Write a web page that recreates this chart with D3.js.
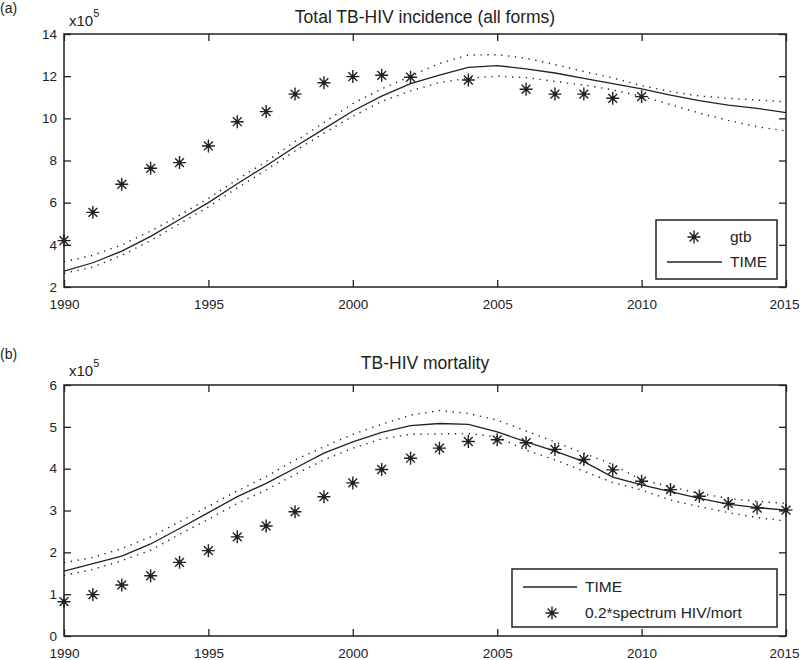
<!DOCTYPE html>
<html><head><meta charset="utf-8">
<script src="https://cdn.jsdelivr.net/npm/d3@7"></script>
<style>
body{margin:0;background:#fff}
svg text{font-family:"Liberation Sans",Arial,Helvetica,sans-serif;fill:#222}
</style>
</head><body>
<svg id="c" width="800" height="660"></svg>
<script>
// ---------- DATA (values in units of 10^5) ----------
const years = d3.range(1990, 2016);
const xTicks = [1990, 1995, 2000, 2005, 2010, 2015];

// Panel (a): Total TB-HIV incidence
const incTicks = [2, 4, 6, 8, 10, 12, 14];
const incGtbYears  = [1990,1991,1992,1993,1994,1995,1996,1997,1998,1999,2000,2001,2002,2004,2006,2007,2008,2009,2010];
const incGtbValues = [4.2,5.54,6.87,7.63,7.9,8.69,9.84,10.32,11.15,11.69,11.98,12.04,11.95,11.82,11.38,11.15,11.15,10.95,11.03];
const incTime  = [2.75,3.15,3.7,4.4,5.2,6.0,6.9,7.75,8.65,9.5,10.35,11.05,11.65,12.05,12.42,12.5,12.35,12.15,11.9,11.65,11.4,11.1,10.84,10.63,10.47,10.27];
const incUpper = [3.2,3.5,4.0,4.65,5.4,6.2,7.1,7.95,8.9,9.8,10.7,11.4,12.0,12.6,13.0,13.02,12.85,12.55,12.22,11.92,11.55,11.27,11.06,10.95,10.87,10.78];
const incLower = [2.65,2.95,3.5,4.2,5.0,5.8,6.7,7.55,8.45,9.3,10.1,10.8,11.3,11.7,11.9,12.0,11.93,11.75,11.58,11.35,11.05,10.65,10.25,9.9,9.6,9.4];

// Panel (b): TB-HIV mortality
const mortTicks = [0, 1, 2, 3, 4, 5, 6];
const mortSpecYears  = d3.range(1990, 2016);
const mortSpecValues = [0.82,0.99,1.22,1.44,1.76,2.04,2.37,2.63,2.97,3.33,3.66,3.98,4.25,4.49,4.65,4.69,4.62,4.46,4.22,3.97,3.7,3.5,3.34,3.17,3.06,3.01];
const mortTime  = [1.55,1.73,1.91,2.2,2.57,2.95,3.33,3.65,4.01,4.37,4.64,4.87,5.03,5.08,5.06,4.88,4.64,4.42,4.17,3.8,3.61,3.45,3.29,3.15,3.07,3.01];
const mortUpper = [1.75,1.88,2.09,2.37,2.73,3.1,3.47,3.81,4.21,4.52,4.82,5.06,5.28,5.39,5.32,5.16,4.9,4.64,4.37,4.1,3.73,3.57,3.41,3.29,3.22,3.17];
const mortLower = [1.45,1.59,1.8,2.05,2.43,2.79,3.17,3.49,3.86,4.21,4.49,4.71,4.82,4.83,4.84,4.76,4.44,4.21,3.94,3.67,3.49,3.25,3.09,2.95,2.83,2.75];

// ---------- DRAWING ----------
const svg = d3.select('#c');
const INK = '#222';

function starPath(r){
  const d = r*0.68;
  return `M${-r},0H${r}M0,${-r}V${r}M${-d},${-d}L${d},${d}M${-d},${d}L${d},${-d}`;
}
function drawStar(g, x, y){
  const s = g.append('g').attr('transform', `translate(${x},${y})`);
  s.append('path').attr('d', starPath(6.5)).attr('stroke', INK).attr('stroke-width', 1.4).attr('fill', 'none');
  s.append('circle').attr('r', 2.1).attr('fill', INK);
}

function panel(opt){
  const {left, right, top, bottom, yDomain, yTicks, label, title, titleY, expY,
         obsYears, obsValues, time, upper, lower, legend} = opt;
  const x = d3.scaleLinear().domain([1990, 2015]).range([left, right]);
  const y = d3.scaleLinear().domain(yDomain).range([bottom, top]);
  const g = svg.append('g');

  // axes with inward ticks on all four sides
  const ax = [
    [d3.axisBottom(x).tickValues(xTicks).tickFormat(d3.format('d')), `translate(0,${bottom})`, 12],
    [d3.axisTop(x).tickValues(xTicks).tickFormat(''), `translate(0,${top})`, 0],
    [d3.axisLeft(y).tickValues(yTicks).tickFormat(d3.format('d')), `translate(${left},0)`, 7],
    [d3.axisRight(y).tickValues(yTicks).tickFormat(''), `translate(${right},0)`, 0]
  ];
  ax.forEach(([a, tr, pad]) => {
    const ag = g.append('g').attr('transform', tr)
      .call(a.tickSizeInner(-7).tickSizeOuter(0).tickPadding(pad));
    ag.select('.domain').remove();
    ag.selectAll('line').attr('stroke', INK).attr('stroke-width', 1.3);
    ag.selectAll('text').attr('font-size', 13.5).attr('fill', INK)
      .style('font-family', '"Liberation Sans",Arial,sans-serif');
  });
  // keep the last x label ("2015") inside the page edge
  g.selectAll('.tick').filter(d => d === 2015).select('text').attr('text-anchor', 'end').attr('x', 800 - right - 1);

  // frame
  g.append('rect').attr('x', left).attr('y', top).attr('width', right-left).attr('height', bottom-top)
    .attr('fill', 'none').attr('stroke', INK).attr('stroke-width', 1.5);

  // bands + model line
  const line = d3.line().x((d,i) => x(years[i])).y(d => y(d));
  [upper, lower].forEach(arr => {
    g.append('path').attr('d', line(arr)).attr('fill', 'none').attr('stroke', INK)
      .attr('stroke-width', 1.4).attr('stroke-dasharray', '1.3 5.6');
  });
  g.append('path').attr('d', line(time)).attr('fill', 'none').attr('stroke', INK).attr('stroke-width', 1.3);

  // observed stars
  obsYears.forEach((yr, i) => drawStar(g, x(yr), y(obsValues[i])));

  // titles
  svg.append('text').attr('x', (left+right)/2).attr('y', titleY).attr('text-anchor', 'middle')
    .attr('font-size', 17.5).text(title);
  svg.append('text').attr('x', 0).attr('y', titleY - 10).attr('font-size', 14).text(label);
  const ex = svg.append('text').attr('x', 69).attr('y', expY).attr('font-size', 15);
  ex.append('tspan').text('x10');
  ex.append('tspan').attr('dy', -9).attr('font-size', 11).text('5');

  // legend
  const L = legend;
  const lg = svg.append('g');
  lg.append('rect').attr('x', L.x).attr('y', L.y).attr('width', L.w).attr('height', L.h)
    .attr('fill', '#fff').attr('stroke', INK).attr('stroke-width', 1.5);
  L.items.forEach((it, i) => {
    const cy = L.y + L.rowY[i];
    if (it.type === 'star') drawStar(lg, L.symX, cy);
    else lg.append('line').attr('x1', L.lineX1).attr('x2', L.lineX2).attr('y1', cy).attr('y2', cy)
      .attr('stroke', INK).attr('stroke-width', 1.3);
    lg.append('text').attr('x', L.textX).attr('y', cy).attr('dy', '0.35em')
      .attr('font-size', 15.5).text(it.name);
  });
}

panel({
  left: 64, right: 786, top: 34, bottom: 287,
  yDomain: [2, 14], yTicks: incTicks, label: '(a)',
  title: 'Total TB-HIV incidence (all forms)', titleY: 23, expY: 26,
  obsYears: incGtbYears, obsValues: incGtbValues,
  time: incTime, upper: incUpper, lower: incLower,
  legend: {x: 656, y: 220, w: 121, h: 59, rowY: [17, 42], symX: 694, lineX1: 667, lineX2: 722, textX: 730,
           items: [{type: 'star', name: 'gtb'}, {type: 'line', name: 'TIME'}]}
});

panel({
  left: 64, right: 786, top: 385, bottom: 636,
  yDomain: [0, 6], yTicks: mortTicks, label: '(b)',
  title: 'TB-HIV mortality', titleY: 369, expY: 376,
  obsYears: mortSpecYears, obsValues: mortSpecValues,
  time: mortTime, upper: mortUpper, lower: mortLower,
  legend: {x: 512, y: 569, w: 265, h: 58, rowY: [18, 44], symX: 552, lineX1: 523, lineX2: 577, textX: 585,
           items: [{type: 'line', name: 'TIME'}, {type: 'star', name: '0.2*spectrum HIV/mort'}]}
});
</script>
</body></html>
